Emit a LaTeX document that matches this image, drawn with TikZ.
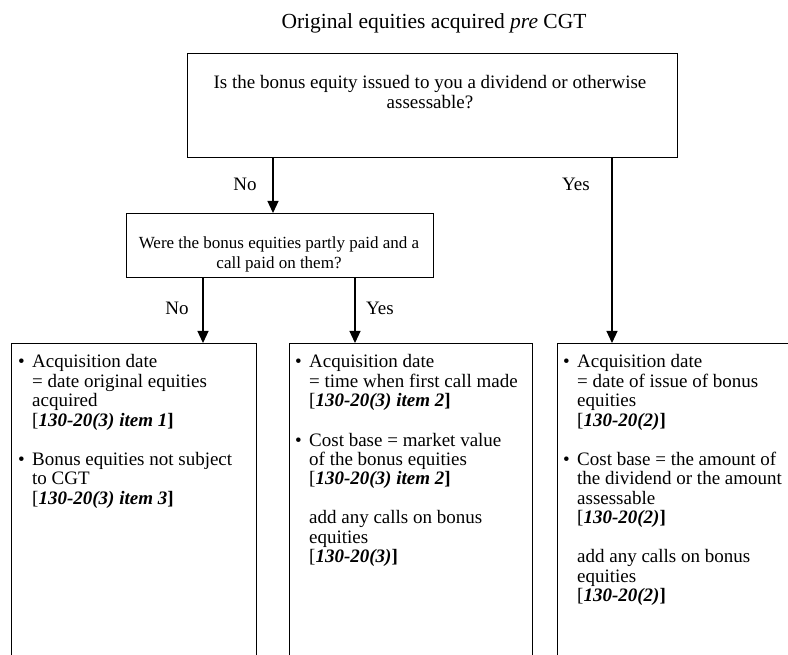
\documentclass[tikz,border=0pt]{standalone}
\usepackage{fontspec}
\setmainfont{Liberation Serif}
\usetikzlibrary{arrows.meta}
\newcommand\fs{\fontsize{19}{19.5}\selectfont}
\newcommand\fm{\fontsize{17}{20}\selectfont}
\newcommand\ft{\fontsize{21.5}{24}\selectfont}
\newcommand\rf[1]{[\textbf{\textit{#1}]}}
\newcommand\bl{\makebox[14pt][l]{\textbullet}}
\newcommand\hb{\hangindent=14pt\hangafter=1\noindent}
\newcommand\hi{\hangindent=14pt\hangafter=0\noindent}
\tikzset{
  box/.style={draw, line width=1.3pt, inner sep=0pt, anchor=north west},
  arr/.style={line width=1.2pt, -{Triangle[width=11pt,length=12pt]}},
  lbl/.style={inner sep=0pt, anchor=base, font=\fs},
  txt/.style={inner sep=0pt, anchor=base west},
  ctr/.style={inner sep=0pt, anchor=base}
}
\begin{document}
\begin{tikzpicture}[x=1pt,y=-1pt]
\useasboundingbox (0,0) rectangle (788,655);
% title
\node[ctr, font=\ft] (title) at (434,29) {Original equities acquired \textit{pre} CGT};
% boxes
\node[box, minimum width=490pt, minimum height=104pt] (q1) at (187,53) {};
\node[box, minimum width=307pt, minimum height=64pt] (q2) at (126,213) {};
\node[box, minimum width=245pt, minimum height=340pt] (b1) at (11,343) {};
\node[box, minimum width=243pt, minimum height=340pt] (b2) at (289,343) {};
\node[box, minimum width=260pt, minimum height=340pt] (b3) at (557,343) {};
% box texts
\node[ctr] (q1t) at (430,89) {\begin{minipage}[t]{470pt}\centering\fs
Is the bonus equity issued to you a dividend or otherwise\\assessable?\end{minipage}};
\node[ctr] (q2t) at (279,249) {\begin{minipage}[t]{300pt}\centering\fm
Were the bonus equities partly paid and a\\call paid on them?\end{minipage}};
\node[txt] (t1) at (18,368) {\begin{minipage}[t]{236pt}\fs\raggedright
\hb\bl Acquisition date\newline= date original equities\newline acquired\newline\rf{130-20(3) item 1}\par
\vspace{19.5pt}
\hb\bl Bonus equities not subject\newline to CGT\newline\rf{130-20(3) item 3}\par
\end{minipage}};
\node[txt] (t2) at (295,368) {\begin{minipage}[t]{236pt}\fs\raggedright
\hb\bl Acquisition date\newline= time when first call made\newline\rf{130-20(3) item 2}\par
\vspace{19.5pt}
\hb\bl Cost base = market value\newline of the bonus equities\newline\rf{130-20(3) item 2}\par
\vspace{19.5pt}
\hi add any calls on bonus\newline equities\newline\rf{130-20(3)}\par
\end{minipage}};
\node[txt] (t3) at (563,368) {\begin{minipage}[t]{236pt}\fs\raggedright
\hb\bl Acquisition date\newline= date of issue of bonus\newline equities\newline\rf{130-20(2)}\par
\vspace{19.5pt}
\hb\bl Cost base = the amount of\newline the dividend or the amount\newline assessable\newline\rf{130-20(2)}\par
\vspace{19.5pt}
\hi add any calls on bonus\newline equities\newline\rf{130-20(2)}\par
\end{minipage}};
% connector x positions
\coordinate (xno1) at (273,0);
\coordinate (xyes1) at (612,0);
\coordinate (xno2) at (203,0);
\coordinate (xyes2) at (355,0);
% connectors
\draw[arr] (q1.south -| xno1) -- (q2.north -| xno1);
\draw[arr] (q1.south -| xyes1) -- (b3.north -| xyes1);
\draw[arr] (q2.south -| xno2) -- (b1.north -| xno2);
\draw[arr] (q2.south -| xyes2) -- (b2.north -| xyes2);
% labels
\node[lbl] (lno1) at (245,191) {No};
\node[lbl] (lyes1) at (576,191) {Yes};
\node[lbl] (lno2) at (177,315) {No};
\node[lbl] (lyes2) at (380,315) {Yes};
\end{tikzpicture}
\end{document}
